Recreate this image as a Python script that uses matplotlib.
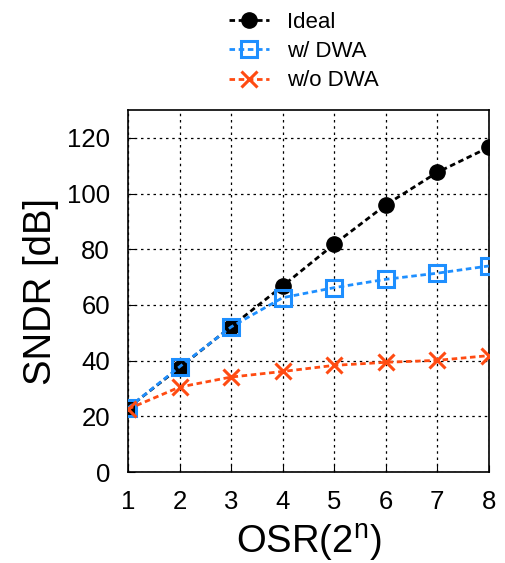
import matplotlib
matplotlib.use("Agg")
import matplotlib.pyplot as plt

plt.rcParams['font.family'] = ['Liberation Sans', 'DejaVu Sans']

osr = [1, 2, 3, 4, 5, 6, 7, 8]
ideal = [23, 37.5, 52.2, 66.8, 81.8, 95.9, 107.6, 116.6]
with_dwa = [23, 37.8, 52.1, 62.6, 66.2, 69.2, 71.4, 74.0]
without_dwa = [22.6, 30.5, 34.1, 36.1, 38.3, 39.4, 40.1, 41.8]
yticks = [0, 20, 40, 60, 80, 100, 120]

fig = plt.figure(figsize=(5.06, 5.63), dpi=100)
ax = fig.add_axes([0.253, 0.1616, 0.713, 0.643])

ls = (0, (2.0, 1.3))
ax.plot(osr, ideal, linestyle=ls, color='black', lw=2, marker='o', ms=11,
        mfc='black', mec='black', label='Ideal', zorder=3)
ax.plot(osr, with_dwa, linestyle=ls, color='#1E8FFF', lw=2, marker='s', ms=11,
        mfc='none', mec='#1E8FFF', mew=2.2, label='w/ DWA', zorder=4)
ax.plot(osr, without_dwa, linestyle=ls, color='#FF4B12', lw=2, marker='x', ms=11,
        mew=2.2, mec='#FF4B12', label='w/o DWA', zorder=5)

ax.set_xlim(1, 8)
ax.set_ylim(0, 130)
ax.set_xticks(osr)
ax.set_yticks(yticks)
ax.tick_params(direction='in', length=5, labelsize=18.5)
ax.tick_params(axis='x', pad=13)
ax.tick_params(axis='y', pad=13)
ax.grid(True, color='black', linestyle=(0, (2, 3)), lw=0.9)
for s in ax.spines.values():
    s.set_linewidth(1.2)
ax.set_xlabel('OSR(2$^{\\mathregular{n}}$)', fontsize=27.5, labelpad=6)
ax.set_ylabel('SNDR [dB]', fontsize=27.5, labelpad=6)

fig.legend(loc='upper left', bbox_to_anchor=(0.414, 1.015), frameon=False,
           fontsize=16, handlelength=1.8, labelspacing=0.38, handletextpad=0.77)

fig.savefig('out.png', dpi=100)
